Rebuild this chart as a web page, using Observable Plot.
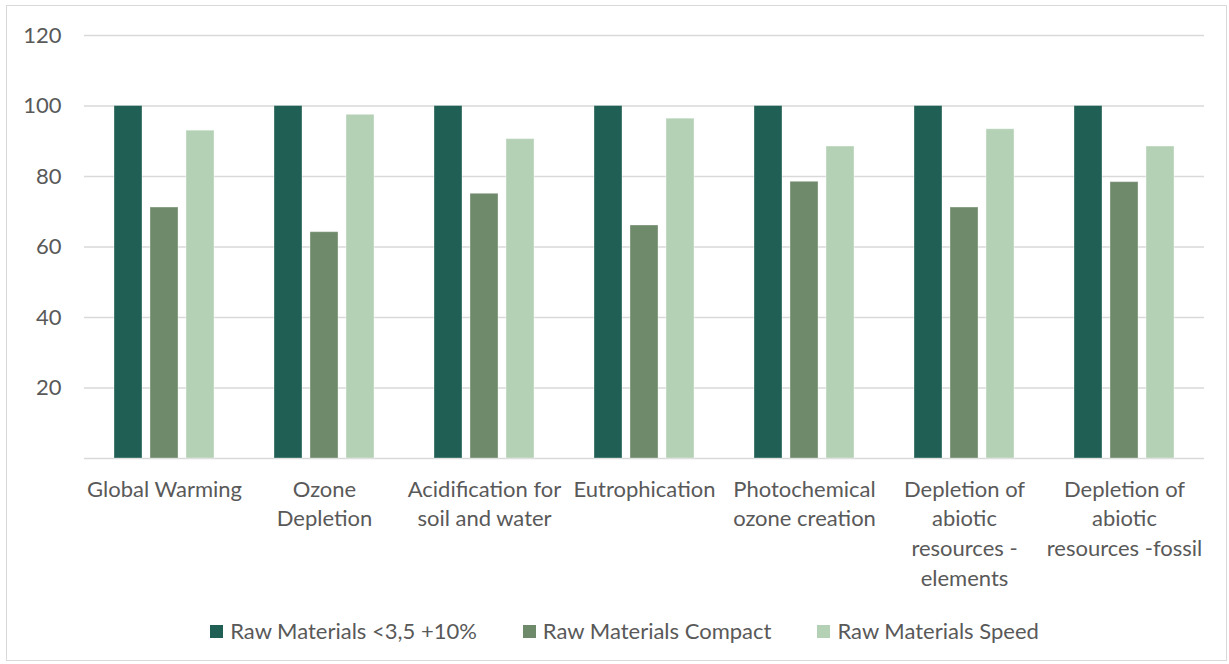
<!DOCTYPE html>
<html>
<head>
<meta charset="utf-8">
<script src="https://cdn.jsdelivr.net/npm/d3@7"></script>
<script src="https://cdn.jsdelivr.net/npm/@observablehq/plot@0.6"></script>
<style>
  html, body { margin: 0; padding: 0; background: #fff; }
  #wrap { position: relative; width: 1229px; height: 664px; font-family: Lato, "Open Sans", sans-serif; color: #595959; }
  #frame { position: absolute; left: 6px; top: 5px; width: 1221px; height: 656px; border: 1.5px solid #d9d9d9; box-sizing: border-box; pointer-events: none; }
  #legend { position: absolute; left: 0; top: 616px; width: 1229px; display: flex; justify-content: center; padding-left: 20px; box-sizing: border-box; font-size: 22px; line-height: 30px; }
  .item { display: flex; align-items: center; margin: 0 23px; }
  .sw { width: 13px; height: 13px; margin-right: 7px; }
</style>
</head>
<body>
<div id="wrap">
  <div id="chart"></div>
  <div id="legend"></div>
  <div id="frame"></div>
</div>
<script>
const categories = ["Global Warming", "Ozone Depletion", "Acidification for soil and water", "Eutrophication", "Photochemical ozone creation", "Depletion of abiotic resources - elements", "Depletion of abiotic resources -fossil"];
const categoryLabels = ["Global Warming", "Ozone\nDepletion", "Acidification for\nsoil and water", "Eutrophication", "Photochemical\nozone creation", "Depletion of\nabiotic\nresources -\nelements", "Depletion of\nabiotic\nresources -fossil"];
const seriesNames = ["Raw Materials <3,5 +10%", "Raw Materials Compact", "Raw Materials Speed"];
const seriesColors = ["#1f5f54", "#6f8a6b", "#b4d1b6"];
const valuesBase = [100, 100, 100, 100, 100, 100, 100];
const valuesCompact = [71.2, 64.2, 75.1, 66.1, 78.5, 71.2, 78.4];
const valuesSpeed = [93.0, 97.5, 90.6, 96.4, 88.5, 93.4, 88.5];
const yTicks = [20, 40, 60, 80, 100, 120];

const seriesValues = [valuesBase, valuesCompact, valuesSpeed];
const data = [];
categories.forEach((c, i) => {
  seriesNames.forEach((s, j) => data.push({category: c, series: s, value: seriesValues[j][i]}));
});
const labelOf = new Map(categories.map((c, i) => [c, categoryLabels[i]]));

const chart = Plot.plot({
  width: 1229,
  height: 612,
  marginLeft: 83,
  marginRight: 25,
  marginTop: 35,
  marginBottom: 154,
  style: {fontFamily: "Lato, 'Open Sans', sans-serif", color: "#595959", background: "transparent"},
  fx: {domain: categories, paddingInner: 0, paddingOuter: 0, label: null},
  x: {domain: seriesNames, paddingInner: 0.222, paddingOuter: 0.833, axis: null},
  y: {domain: [0, 120], label: null},
  color: {domain: seriesNames, range: seriesColors},
  marks: [
    Plot.ruleY(yTicks, {stroke: "#d9d9d9", strokeWidth: 1.5}),
    Plot.ruleY([0], {stroke: "#d9d9d9", strokeWidth: 1.5}),
    Plot.barY(data, {fx: "category", x: "series", y: "value", fill: "series", stroke: "#ffffff", strokeOpacity: 0.35, strokeWidth: 1}),
    Plot.axisY(yTicks, {tickSize: 0, tickPadding: 23, fontSize: 22, fill: "#595959", label: null}),
    Plot.axisFx({anchor: "bottom", tickSize: 0, tickPadding: 17, fontSize: 22, lineHeight: 1.35, fill: "#595959", label: null, textAnchor: "middle", tickFormat: d => labelOf.get(d)})
  ]
});
document.getElementById("chart").appendChild(chart);

const legend = document.getElementById("legend");
seriesNames.forEach((s, i) => {
  const it = document.createElement("div");
  it.className = "item";
  const sw = document.createElement("span");
  sw.className = "sw";
  sw.style.background = seriesColors[i];
  const t = document.createElement("span");
  t.textContent = s;
  it.appendChild(sw); it.appendChild(t);
  legend.appendChild(it);
});
</script>
</body>
</html>
